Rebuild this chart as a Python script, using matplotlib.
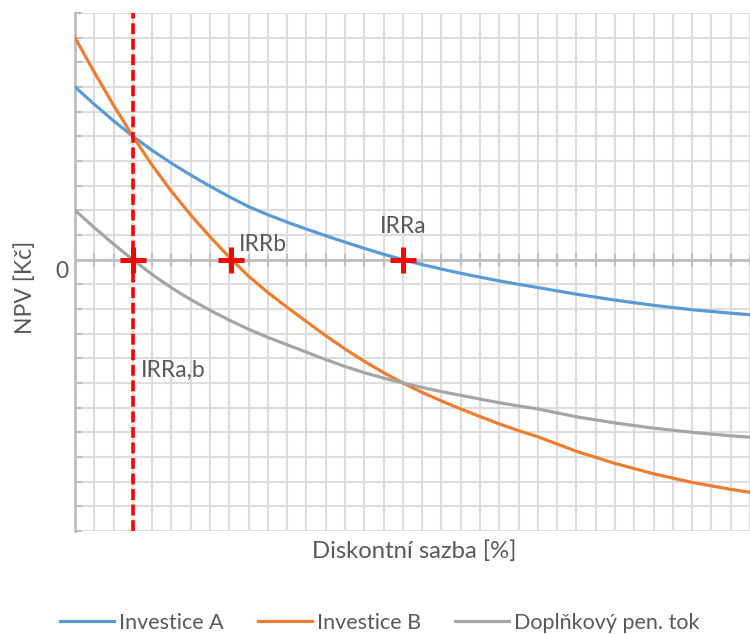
import matplotlib
matplotlib.use("Agg")
import matplotlib.pyplot as plt
import numpy as np

plt.rcParams['font.family'] = ['Lato', 'DejaVu Sans']

# discount rate (grid units) and NPV values
rate = [0, 1, 2, 3, 4, 5, 6, 7, 8, 9, 10, 11, 12, 13, 14, 15, 16, 17,
        18, 19, 20, 21, 22, 23, 24, 26, 28, 30, 32, 34, 35]
npv_a = [7.0, 6.3, 5.63, 5.0, 4.43, 3.91, 3.43, 2.98, 2.55, 2.15, 1.82, 1.52,
         1.24, 0.97, 0.71, 0.46, 0.22, 0.0, -0.2, -0.38, -0.55, -0.71, -0.86,
         -1.0, -1.13, -1.4, -1.64, -1.85, -2.03, -2.17, -2.23]
npv_b = [9.0, 7.6, 6.26, 5.0, 3.83, 2.77, 1.81, 0.93, 0.1, -0.67, -1.33, -1.93,
         -2.51, -3.08, -3.62, -4.12, -4.58, -5.0, -5.38, -5.73, -6.05, -6.36,
         -6.66, -6.93, -7.18, -7.77, -8.26, -8.68, -9.03, -9.31, -9.43]
npv_diff = [2.0, 1.3, 0.63, 0.0, -0.6, -1.14, -1.62, -2.05, -2.45, -2.82, -3.15,
            -3.45, -3.75, -4.05, -4.33, -4.58, -4.8, -5.0, -5.18, -5.35, -5.5,
            -5.65, -5.8, -5.93, -6.05, -6.37, -6.62, -6.83, -7.0, -7.14, -7.2]
series_names = ['Investice A', 'Investice B', 'Doplňkový pen. tok']

irr_x = [3, 8.1, 17]
irr_y = [0, 0, 0]
irr_ab = 3

text_col = '#595959'
axis_col = '#BFBFBF'

fig = plt.figure(figsize=(7.5, 6.34), dpi=100)
ax = fig.add_axes([0.1, 103 / 634, 0.9, 518 / 634])

ax.set_xlim(0, 35)
ax.set_ylim(-11, 10)
ax.set_xticks(np.arange(0, 36))
ax.set_yticks(np.arange(-11, 11))
ax.grid(True, color='#DDDDDD', linewidth=1.5, zorder=0)
ax.set_axisbelow(True)
ax.set_xticklabels([])
ax.set_yticklabels([])

for s in ['top', 'right']:
    ax.spines[s].set_visible(False)
ax.spines['bottom'].set_position(('data', 0))
ax.spines['bottom'].set_color(axis_col)
ax.spines['bottom'].set_linewidth(2)
ax.spines['left'].set_color(axis_col)
ax.spines['left'].set_linewidth(2)
ax.tick_params(axis='x', direction='inout', length=8, width=1.5, color=axis_col)
ax.tick_params(axis='y', direction='in', length=5, width=1.5, color=axis_col)

ax.plot(rate, npv_a, color='#5B9BD5', lw=2.3, label=series_names[0], zorder=3)
ax.plot(rate, npv_b, color='#ED7D31', lw=2.3, label=series_names[1], zorder=3)
ax.plot(rate, npv_diff, color='#A5A5A5', lw=2.3, label=series_names[2], zorder=3)

ax.axvline(irr_ab, color='#FF0000', lw=2.6, dashes=(3.0, 1.3), zorder=4)
ax.plot(irr_x, irr_y, linestyle='none', marker='+', markersize=19,
        markeredgewidth=3.6, color='#FF0000', zorder=5, clip_on=False)

ax.text(8.5, 0.6, 'IRRb', fontsize=16.5, color=text_col, va='center', ha='left')
ax.text(17, 1.35, 'IRRa', fontsize=16.5, color=text_col, va='center', ha='center')
ax.text(3.4, -4.5, 'IRRa,b', fontsize=16.5, color=text_col, va='center', ha='left')

fig.text(62 / 750, 1 - 272 / 634, '0', fontsize=16.5, color=text_col, ha='center', va='center')
fig.text(414 / 750, 1 - 551 / 634, 'Diskontní sazba [%]', fontsize=17.2,
         color=text_col, ha='center', va='center')
fig.text(25 / 750, 1 - 287 / 634, 'NPV [Kč]', fontsize=16.5, color=text_col,
         ha='center', va='center', rotation=90)

leg = fig.legend(loc='center', bbox_to_anchor=(380 / 750, 1 - 623 / 634), ncol=3,
                 frameon=False, fontsize=15.5, handlelength=2.5, handletextpad=0.23,
                 columnspacing=1.6)
for t in leg.get_texts():
    t.set_color(text_col)

fig.savefig('out.png', dpi=100)
